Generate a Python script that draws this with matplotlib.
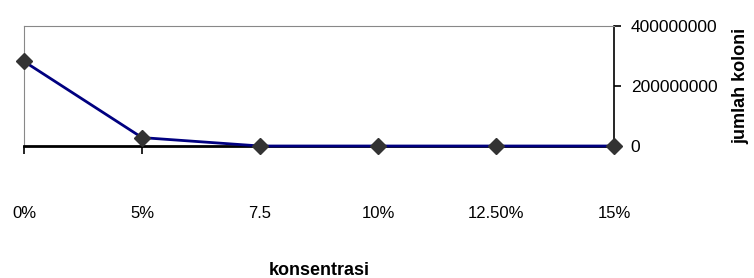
import matplotlib.pyplot as plt

concentrations = ["0%", "5%", "7.5", "10%", "12.50%", "15%"]
colonies = [282000000, 28000000, 0, 0, 0, 0]
y_ticks = [0, 200000000, 400000000]

plt.rcParams["font.family"] = ["Liberation Sans", "DejaVu Sans"]

fig = plt.figure(figsize=(7.54, 2.78), dpi=100)
ax = fig.add_axes([24 / 754, 1 - 146 / 278, 590 / 754, 120 / 278])

x = range(len(concentrations))
ax.plot(x, colonies, color="#000080", linewidth=2, marker="D", markersize=8,
        markerfacecolor="#333333", markeredgecolor="#333333", clip_on=False, zorder=3)

ax.set_xlim(0, len(concentrations) - 1)
ax.set_ylim(0, 400000000)
ax.set_xticks(list(x))
ax.set_xticklabels(concentrations, fontsize=12)
ax.tick_params(axis="x", direction="out", length=6, width=1.2, pad=37, color="black")

ax.yaxis.tick_right()
ax.yaxis.set_label_position("right")
ax.set_yticks(y_ticks)
ax.set_yticklabels([str(v) for v in y_ticks], fontsize=12.5)
ax.tick_params(axis="y", direction="out", length=5, width=1.2, pad=7, color="black")
ax.set_ylabel("jumlah koloni", fontsize=13, fontweight="bold", labelpad=11)
ax.set_xlabel("konsentrasi", fontsize=13, fontweight="bold", labelpad=30)

ax.spines["top"].set_color("#888888")
ax.spines["left"].set_color("#888888")
ax.spines["bottom"].set_color("black")
ax.spines["bottom"].set_linewidth(2)
ax.spines["right"].set_color("black")
ax.spines["right"].set_linewidth(1.2)

fig.savefig("out.png", dpi=100)
